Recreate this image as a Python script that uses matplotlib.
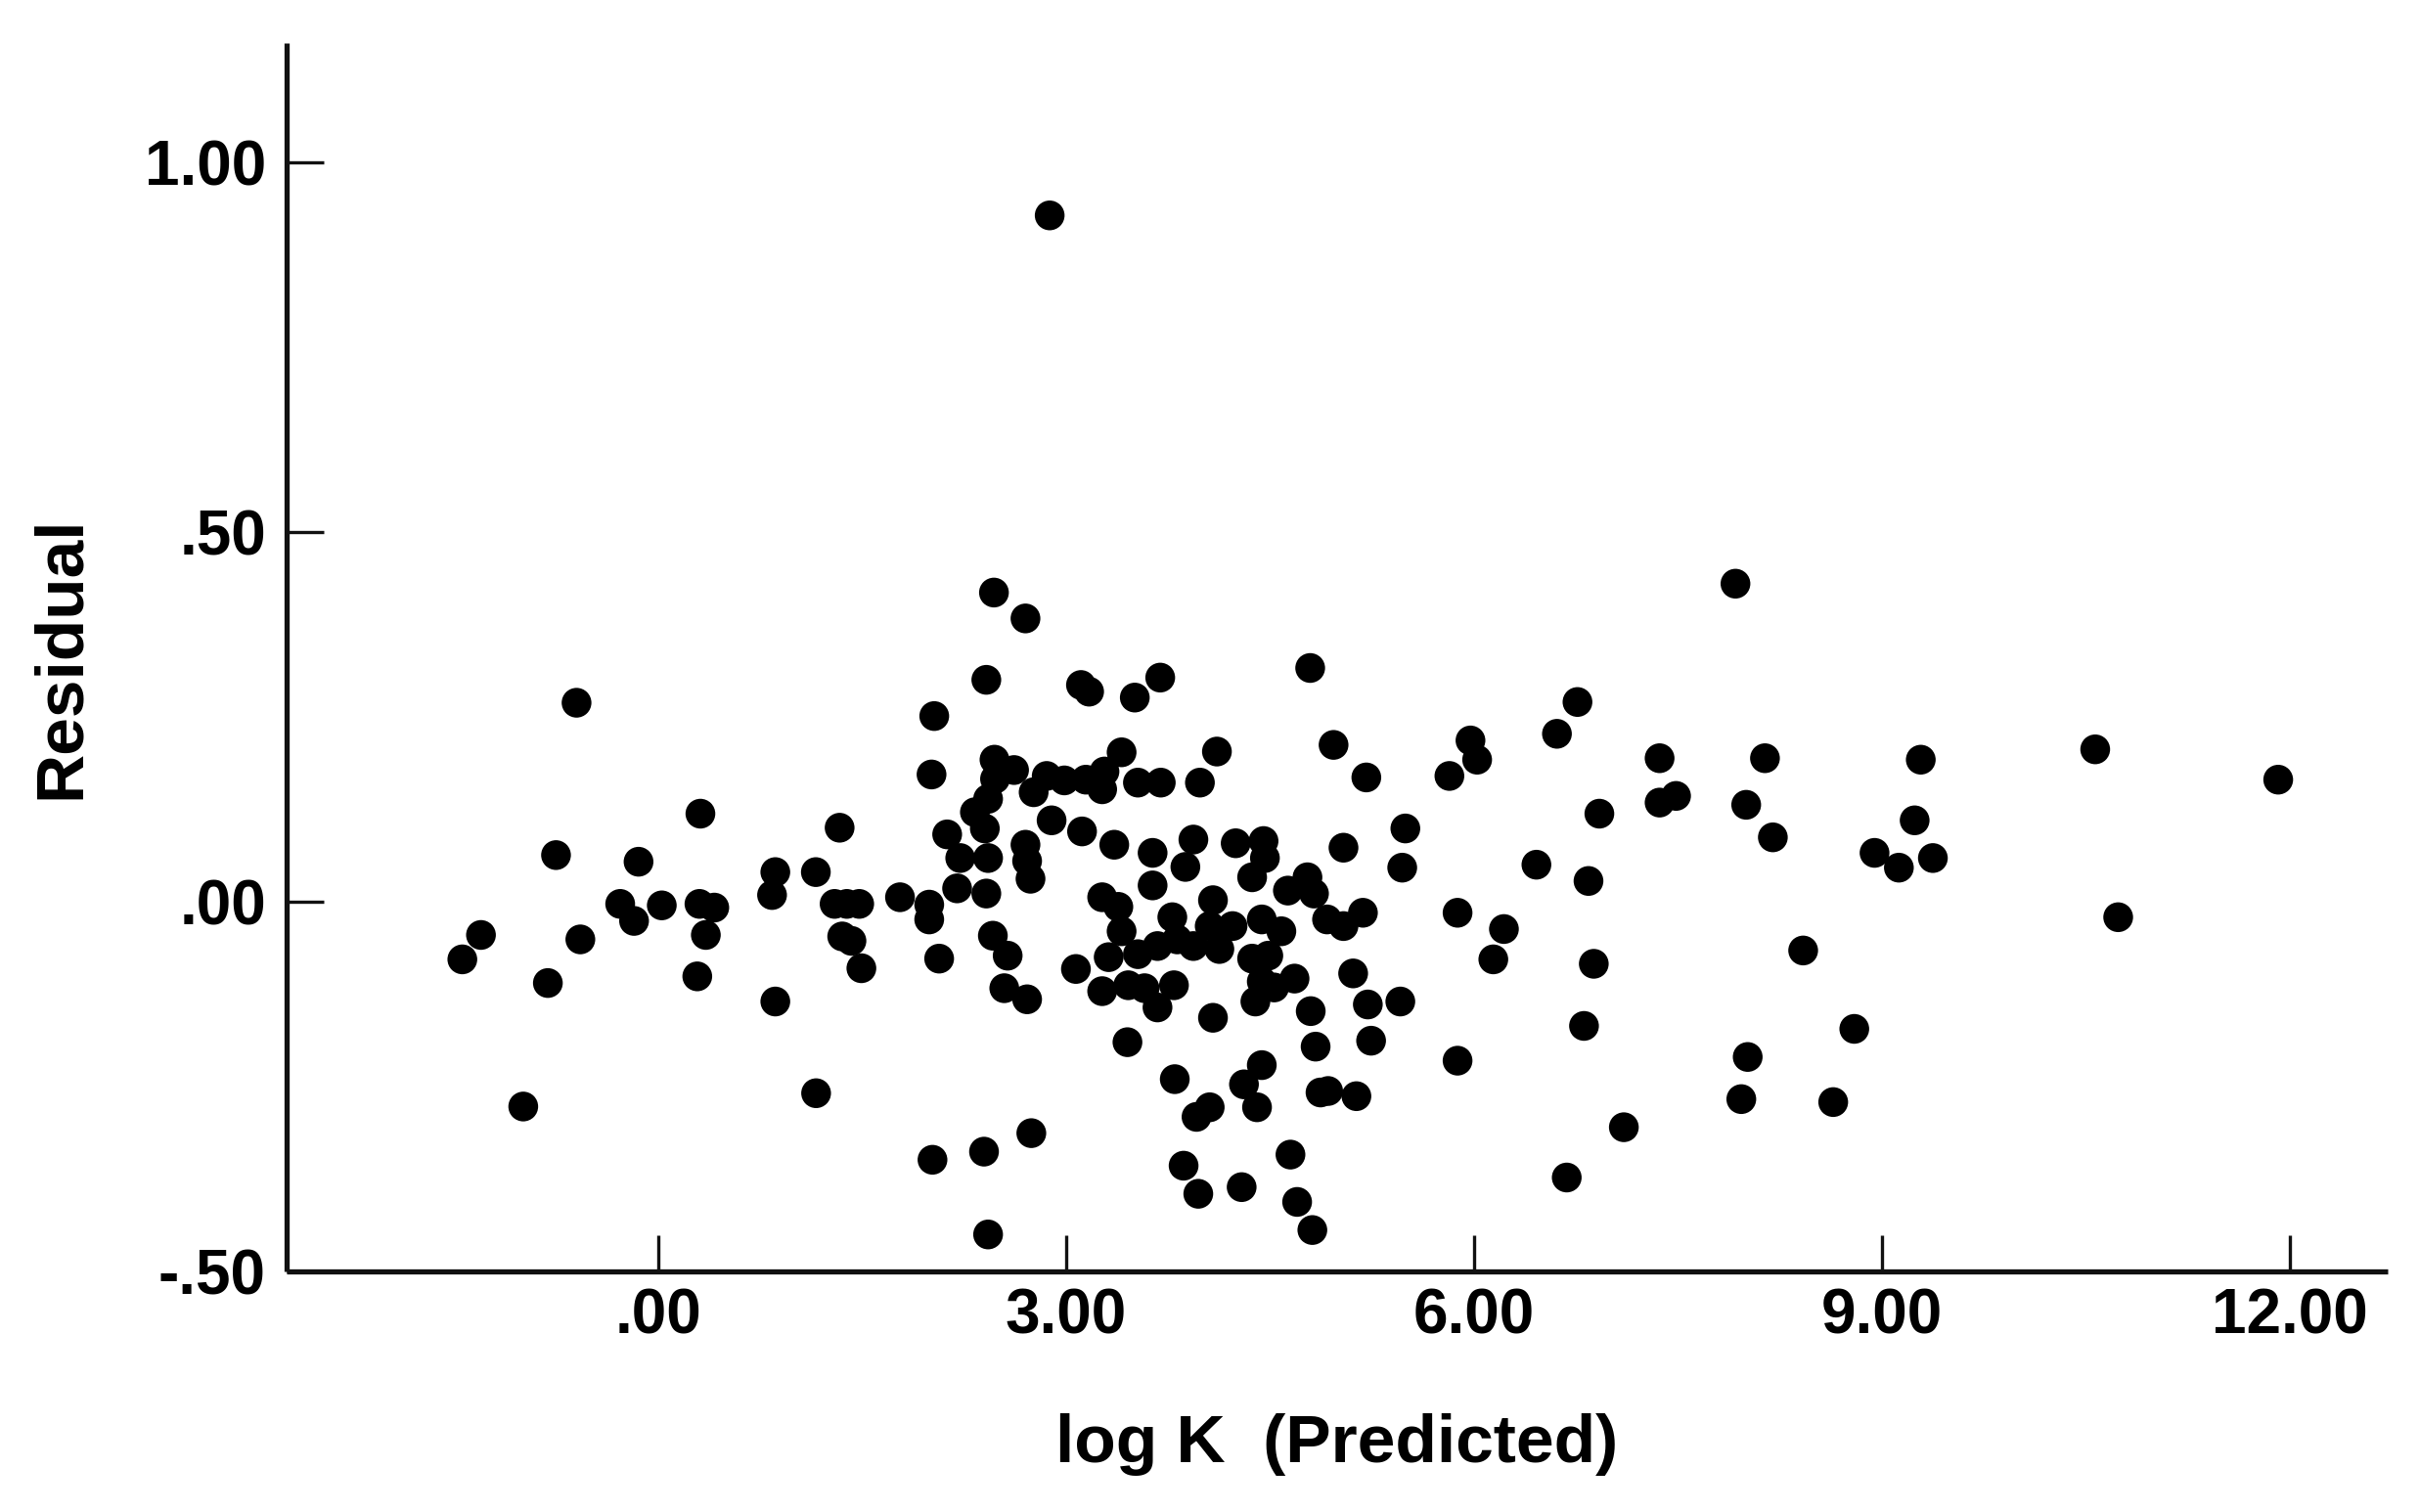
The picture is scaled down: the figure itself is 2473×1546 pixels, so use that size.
import matplotlib
matplotlib.use("Agg")
import matplotlib.pyplot as plt
from matplotlib.ticker import FuncFormatter

# Predicted log K and residuals
log_k_pred = [
    -1.442, -1.305, -0.994, -0.813, -0.753, -0.602, -0.574, -0.281, -0.179, -0.146,
    0.025, 0.286, 0.309, 0.302, 0.411, 0.349, 0.860, 0.836, 0.860, 1.333,
    1.158, 1.160, 1.296, 1.386, 1.477, 1.352, 1.420, 1.493, 1.777, 2.029,
    2.009, 1.992, 1.992, 2.065, 2.016, 2.124, 2.197, 2.220, 2.328, 2.412,
    2.468, 2.700, 3.108, 3.168, 3.504, 3.691, 4.794, 2.878, 2.472, 2.476,
    2.616, 2.856, 2.760, 3.144, 3.264, 3.407, 3.527, 3.695, 2.425, 2.401,
    2.986, 3.281, 3.983, 4.108, 2.892, 3.116, 3.353, 3.635, 3.935, 4.246,
    4.451, 4.461, 2.700, 2.425, 2.712, 2.737, 2.412, 3.876, 3.635, 4.367,
    4.966, 5.207, 5.039, 5.494, 5.471, 3.264, 3.383, 3.407, 3.312, 3.527,
    3.671, 3.780, 3.816, 4.079, 4.055, 3.935, 4.126, 4.223, 4.438, 4.582,
    4.367, 4.486, 4.438, 4.391, 4.679, 4.798, 4.630, 4.774, 4.822, 4.918,
    5.039, 5.182, 5.110, 5.218, 5.457, 3.071, 3.264, 3.456, 3.576, 3.792,
    3.671, 4.079, 2.460, 2.569, 2.544, 2.712, 4.529, 3.450, 3.798, 3.958,
    4.055, 4.307, 4.438, 4.403, 4.834, 4.870, 4.926, 5.134, 5.242, 2.395,
    2.743, 2.425, 3.863, 3.971, 4.290, 4.649, 4.698, 4.810, 7.922, 6.760,
    6.609, 5.973, 6.022, 5.818, 7.364, 8.139, 6.921, 7.364, 7.485, 8.001,
    8.197, 6.458, 6.841, 5.878, 6.219, 6.141, 6.880, 8.420, 6.808, 5.878,
    8.012, 8.796, 7.101, 6.681, 7.965, 8.641, 9.285, 9.240, 8.945, 9.124,
    9.374, 10.568, 11.914, 10.737,
]
residual = [
    -0.078, -0.045, -0.277, -0.110, 0.063, 0.269, -0.051, -0.003, -0.026, 0.054,
    -0.005, -0.101, 0.119, -0.003, -0.008, -0.045, 0.040, 0.009, -0.135, 0.100,
    0.040, -0.259, -0.003, -0.003, -0.003, -0.047, -0.053, -0.090, 0.006, 0.251,
    0.172, -0.004, -0.024, -0.077, -0.349, 0.091, 0.018, 0.059, 0.121, 0.300,
    0.418, 0.383, 0.293, 0.284, 0.276, 0.303, 0.316, 0.928, 0.192, 0.166,
    0.178, 0.170, 0.148, 0.165, 0.152, 0.202, 0.161, 0.161, 0.139, 0.099,
    0.164, 0.176, 0.161, 0.203, 0.110, 0.095, 0.077, 0.066, 0.084, 0.079,
    0.082, 0.059, 0.077, 0.059, 0.055, 0.031, 0.011, 0.047, 0.022, 0.033,
    0.212, 0.168, 0.073, 0.099, 0.046, 0.006, -0.007, -0.040, -0.075, -0.071,
    -0.060, -0.021, -0.051, 0.002, -0.033, -0.060, -0.064, -0.033, -0.024, -0.040,
    -0.077, -0.073, -0.108, -0.135, -0.104, -0.148, 0.015, 0.033, 0.011, -0.024,
    -0.033, -0.015, -0.097, -0.139, -0.135, -0.091, -0.121, -0.113, -0.117, -0.113,
    -0.143, -0.157, -0.046, -0.073, -0.117, -0.132, -0.116, -0.190, -0.240, -0.291,
    -0.278, -0.247, -0.221, -0.278, -0.196, -0.258, -0.256, -0.263, -0.188, -0.338,
    -0.313, -0.450, -0.357, -0.395, -0.386, -0.342, -0.406, -0.444, 0.430, 0.270,
    0.227, 0.218, 0.192, 0.170, 0.194, 0.194, 0.119, 0.134, 0.143, 0.131,
    0.087, 0.050, 0.028, -0.015, -0.037, -0.078, -0.084, -0.066, -0.168, -0.215,
    -0.210, -0.172, -0.305, -0.373, -0.267, -0.271, 0.192, 0.110, 0.066, 0.046,
    0.059, 0.206, 0.165, -0.021,
]

x_ticks = [0, 3, 6, 9, 12]
y_ticks = [-0.5, 0.0, 0.5, 1.0]


def spss_fmt(v, _pos):
    # SPSS style: drop the leading zero (".50", "-.50", ".00")
    s = f"{v:.2f}"
    if s.startswith("0."):
        s = s[1:]
    elif s.startswith("-0."):
        s = "-" + s[2:]
    return s


plt.rcParams["font.family"] = ["Liberation Sans", "DejaVu Sans"]
plt.rcParams["font.weight"] = "bold"

fig = plt.figure(figsize=(24.73, 15.46), dpi=100)
ax = fig.add_axes([0.1184, 0.1591, 0.8687, 0.8124])

ax.scatter(log_k_pred, residual, s=480, color="black", edgecolors="none", zorder=3)

ax.set_xlim(-2.736, 12.72)
ax.set_ylim(-0.5, 1.161)
ax.set_xticks(x_ticks)
ax.set_yticks(y_ticks)
ax.xaxis.set_major_formatter(FuncFormatter(spss_fmt))
ax.yaxis.set_major_formatter(FuncFormatter(spss_fmt))

for side in ("top", "right"):
    ax.spines[side].set_visible(False)
for side in ("left", "bottom"):
    ax.spines[side].set_linewidth(3.8)
    ax.spines[side].set_color("#111111")
    ax.spines[side].set_capstyle("butt")

ax.tick_params(axis="x", direction="in", length=27, width=2.4, pad=12,
               labelsize=46, color="#111111")
ax.tick_params(axis="y", direction="in", length=27, width=2.4, pad=15,
               labelsize=46, color="#111111")
for lbl in ax.get_xticklabels() + ax.get_yticklabels():
    lbl.set_fontweight("bold")

ax.set_xlabel("log K  (Predicted)", fontsize=50, fontweight="bold", va="center")
ax.set_ylabel("Residual", fontsize=50, fontweight="bold", va="center")
ax.xaxis.set_label_coords(0.5, -0.141)
ax.yaxis.set_label_coords(-0.107, 0.5)

fig.savefig("out.png", dpi=100, facecolor="white")
